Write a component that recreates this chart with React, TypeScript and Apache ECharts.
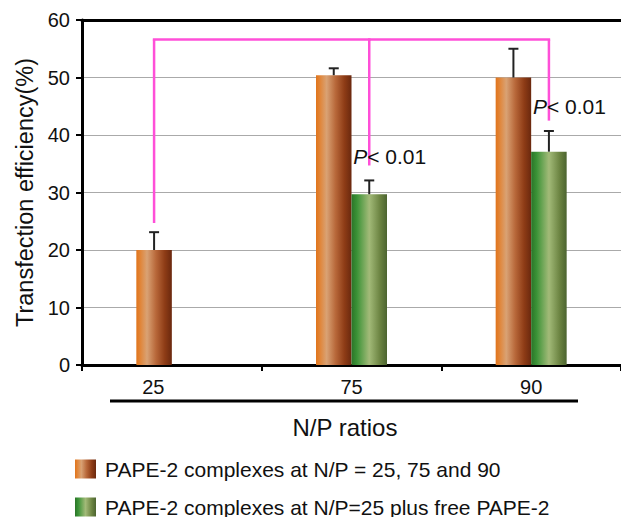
import React, { useEffect, useRef } from 'react';
import * as echarts from 'echarts';

// ---- data ----
const categories = ['25', '75', '90'];
const complexesName = 'PAPE-2 complexes at N/P = 25, 75 and 90';
const plusFreeName = 'PAPE-2 complexes at N/P=25 plus free PAPE-2';
const complexes = [20.0, 50.4, 50.0];
const complexesErr = [3.1, 1.2, 5.0];
const plusFree: (number | null)[] = [null, 29.7, 37.1];
const plusFreeErr: (number | null)[] = [null, 2.4, 3.6];
const bracketTop = 56.6;
// [category index, lower end value, bar side (-1 left bar, +1 right bar)]
const bracketDrops = [
  [0, 24.7, -1],
  [1, 34.7, 1],
  [2, 42.5, 1],
];
const pLabelText = '{i|P}< 0.01';
// [category index, value at text centre]
const pLabels = [
  [1, 36.2],
  [2, 44.9],
];

const FONT = '"Liberation Sans", Arial, Helvetica, sans-serif';
const BAR_W = 35.5;
const PINK = '#ff4fd8';

const orangeGrad = new echarts.graphic.LinearGradient(0, 0, 1, 0, [
  { offset: 0, color: '#e0741c' },
  { offset: 0.08, color: '#e2802e' },
  { offset: 0.3, color: '#d9a274' },
  { offset: 0.55, color: '#b8683a' },
  { offset: 0.8, color: '#8e3c16' },
  { offset: 1, color: '#6a280e' },
]);
const greenGrad = new echarts.graphic.LinearGradient(0, 0, 1, 0, [
  { offset: 0, color: '#2b7428' },
  { offset: 0.15, color: '#3a9236' },
  { offset: 0.5, color: '#a2ba78' },
  { offset: 0.8, color: '#6c8442' },
  { offset: 1, color: '#4c6430' },
]);

export default function App() {
  const ref = useRef<HTMLDivElement>(null);
  useEffect(() => {
    if (!ref.current) return;
    const chart = echarts.init(ref.current, null, { renderer: 'svg' });

    const errData: number[][] = [];
    complexes.forEach((v, i) => errData.push([i, v, complexesErr[i] as number, -1]));
    plusFree.forEach((v, i) => {
      if (v != null) errData.push([i, v, plusFreeErr[i] as number, 1]);
    });

    const legendBase = {
      orient: 'horizontal',
      left: 75,
      padding: 0,
      itemWidth: 21,
      itemHeight: 19,
      icon: 'rect',
      textStyle: { fontSize: 21, color: '#111', lineHeight: 22, padding: [0, 0, 0, 4], fontFamily: FONT },
    };

    const option: any = {
      animation: false,
      textStyle: { fontFamily: FONT },
      grid: { left: 82, right: -4, top: 20, bottom: 152, containLabel: false },
      legend: [
        { ...legendBase, data: [complexesName], top: 458 },
        { ...legendBase, data: [plusFreeName], top: 496 },
      ],
      xAxis: [
        {
          type: 'category',
          data: categories.map((c, i) =>
            i === 0 ? { value: c, textStyle: { padding: [0, 37, 0, 0] } } : c
          ),
          position: 'bottom',
          name: 'N/P ratios',
          nameLocation: 'middle',
          nameGap: 50,
          nameTextStyle: { fontSize: 24, color: '#111', padding: [0, 13, 0, 0], fontFamily: FONT },
          axisLine: { lineStyle: { color: '#000', width: 3 } },
          axisTick: { show: true, length: 6, lineStyle: { color: '#000', width: 2 } },
          axisLabel: { fontSize: 20, color: '#111', margin: 12, fontFamily: FONT },
          splitLine: { show: false },
        },
        {
          type: 'category',
          data: categories,
          position: 'top',
          axisLine: { lineStyle: { color: '#000', width: 3 } },
          axisTick: { show: false },
          axisLabel: { show: false },
        },
      ],
      yAxis: {
        type: 'value',
        min: 0,
        max: 60,
        interval: 10,
        name: 'Transfection efficiency(%)',
        nameLocation: 'middle',
        nameRotate: 90,
        nameGap: 44,
        nameTextStyle: { fontSize: 23.5, color: '#111', fontFamily: FONT },
        axisLine: { show: true, lineStyle: { color: '#000', width: 3 } },
        axisTick: { show: true, length: 6, lineStyle: { color: '#000', width: 2 } },
        axisLabel: { fontSize: 20, color: '#111', margin: 12, fontFamily: FONT },
        splitLine: { show: true, lineStyle: { color: '#aaaaaa', width: 1 } },
      },
      series: [
        {
          type: 'bar',
          name: complexesName,
          data: complexes,
          barWidth: BAR_W,
          barGap: '0%',
          itemStyle: { color: orangeGrad },
          z: 2,
        },
        {
          type: 'bar',
          name: plusFreeName,
          data: plusFree,
          barWidth: BAR_W,
          barGap: '0%',
          itemStyle: { color: greenGrad },
          z: 2,
        },
        {
          type: 'custom',
          data: errData,
          z: 3,
          silent: true,
          renderItem: (params: any, api: any) => {
            const i = api.value(0);
            const v = api.value(1);
            const e = api.value(2);
            const side = api.value(3);
            const base = api.coord([i, v]);
            const top = api.coord([i, v + e]);
            const x = base[0] + (side * BAR_W) / 2;
            return {
              type: 'group',
              children: [
                { type: 'line', shape: { x1: x, y1: base[1], x2: x, y2: top[1] }, style: { stroke: '#222', lineWidth: 2 } },
                { type: 'line', shape: { x1: x - 5, y1: top[1], x2: x + 5, y2: top[1] }, style: { stroke: '#222', lineWidth: 2 } },
              ],
            };
          },
        },
        {
          type: 'custom',
          data: bracketDrops,
          z: 4,
          silent: true,
          renderItem: (params: any, api: any) => {
            const idx = params.dataIndex;
            const cat = api.value(0);
            const end = api.value(1);
            const side = api.value(2);
            const topPt = api.coord([cat, bracketTop]);
            const endPt = api.coord([cat, end]);
            const x = topPt[0] + (side * BAR_W) / 2;
            const children: any[] = [
              { type: 'line', shape: { x1: x, y1: topPt[1], x2: x, y2: endPt[1] }, style: { stroke: PINK, lineWidth: 2.5 } },
            ];
            if (idx < bracketDrops.length - 1) {
              const nx = bracketDrops[idx + 1];
              const nTop = api.coord([nx[0], bracketTop]);
              const x2 = nTop[0] + (nx[2] * BAR_W) / 2;
              children.push({
                type: 'line',
                shape: { x1: x - 1.25, y1: topPt[1], x2: x2 + 1.25, y2: topPt[1] },
                style: { stroke: PINK, lineWidth: 2.5 },
              });
            }
            return { type: 'group', children };
          },
        },
        {
          type: 'custom',
          data: pLabels,
          z: 5,
          silent: true,
          renderItem: (params: any, api: any) => {
            const pt = api.coord([api.value(0), api.value(1)]);
            return {
              type: 'text',
              x: pt[0] + BAR_W / 2 - 16,
              y: pt[1],
              style: {
                text: pLabelText,
                fill: '#111',
                fontSize: 21,
                fontFamily: FONT,
                align: 'left',
                verticalAlign: 'middle',
                rich: {
                  i: { fontStyle: 'italic', fontSize: 21, fontFamily: FONT, fill: '#111' },
                },
              },
            };
          },
        },
      ],
      graphic: [
        {
          type: 'line',
          shape: { x1: 110, y1: 401, x2: 578, y2: 401 },
          style: { stroke: '#000', lineWidth: 3 },
        },
      ],
    };
    chart.setOption(option);
    return () => chart.dispose();
  }, []);
  return (
    <div
      ref={ref}
      style={{ position: 'fixed', left: 0, top: 0, width: 621, height: 517, background: '#fff' }}
    />
  );
}
